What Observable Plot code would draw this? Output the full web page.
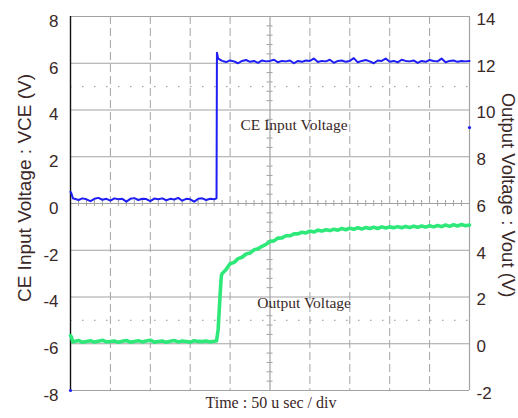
<!DOCTYPE html>
<html>
<head>
<meta charset="utf-8">
<script src="https://cdn.jsdelivr.net/npm/d3@7"></script>
<script src="https://cdn.jsdelivr.net/npm/@observablehq/plot@0.6"></script>
<style>
  html, body { margin: 0; padding: 0; background: #fff; }
  #chart { width: 518px; height: 418px; }
</style>
</head>
<body>
<div id="chart"></div>
<script>
// ---- Data (time in µs, 50 µs per division) ----
const sampleTimeLow = [0,1,3,5,10,15,20,25,30,35,40,45,50,55,60,65,70,75,80,85,90,95,100,105,110,115,120,125,130,135,140,145,150,155,160,165,170,175,180,183];
const sampleTimeHigh = [190,195,200,205,210,215,220,225,230,235,240,245,250,255,260,265,270,275,280,285,290,295,300,305,310,315,320,325,330,335,340,345,350,355,360,365,370,375,380,385,390,395,400,405,410,415,420,425,430,435,440,445,450,455,460,465,470,475,480,485,490,495,500];

// CE input voltage VCE (left axis, V)
const blueStepTime = [183.5, 185];
const blueLow = [0.5,0.45,0.22,0.2,0.15,0.22,0.18,0.1,0.2,0.24,0.16,0.2,0.12,0.22,0.18,0.2,0.08,0.2,0.23,0.15,0.2,0.19,0.1,0.21,0.18,0.22,0.14,0.2,0.17,0.24,0.12,0.2,0.18,0.08,0.2,0.22,0.15,0.2,0.18,0.22];
const blueStep = [6.45, 6.2];
const blueHigh = [6.1,6.05,6.12,6.08,6.0,6.1,6.14,6.06,6.1,6.02,
  6.12,6.08,6.1,6.15,6.04,6.1,6.08,6.12,6.0,6.1,
  6.06,6.12,6.1,6.2,6.05,6.1,6.08,6.15,6.02,6.1,
  6.12,6.06,6.1,6.22,6.04,6.1,6.14,6.08,6.0,6.12,
  6.1,6.2,6.06,6.1,6.04,6.15,6.1,6.08,6.12,6.02,
  6.1,6.06,6.14,6.1,6.08,6.2,6.04,6.1,6.12,6.06,
  6.1,6.08,6.1];

// Output voltage Vout (right axis, V)
const greenRiseTime = [185, 186.5, 188, 189];
const greenLow = [0.35,0.3,0.08,0.1,0.14,0.06,0.1,0.13,0.07,0.11,
  0.15,0.08,0.1,0.12,0.06,0.11,0.14,0.07,0.1,0.13,
  0.08,0.12,0.15,0.07,0.1,0.12,0.06,0.11,0.14,0.08,
  0.12,0.1,0.07,0.13,0.1,0.09,0.12,0.08,0.11,0.12];
const greenRise = [0.6, 1.5, 2.4, 2.9];
const greenHigh = [3.0,3.18,3.42,3.48,3.64,3.7,3.84,3.88,4.02,4.06,
  4.17,4.25,4.38,4.4,4.52,4.53,4.62,4.62,4.7,4.7,
  4.77,4.74,4.82,4.78,4.86,4.82,4.88,4.84,4.9,4.86,
  4.93,4.88,4.94,4.9,4.96,4.91,4.97,4.93,4.98,4.93,
  5.0,4.95,5.0,4.96,5.01,4.96,5.02,4.97,5.03,4.98,
  5.04,4.99,5.05,5.0,5.06,5.01,5.08,5.02,5.09,5.04,
  5.1,5.05,5.08];

// scope channel markers (left axis units)
const markerTime = [500, 0];
const markerVolt = [3.25, -8];

// axis ticks / grid
const leftTicks = [-8,-6,-4,-2,0,2,4,6,8];
const rightOffset = 6; // right axis = left axis + 6
const gridSolid = [-6,-4,-2,2,4,6];
const gridDotted = [-5,5];
const divisions = [50,100,150,200,300,350,400,450];
const centerTime = 250;

// labels
const leftTitle = "CE Input Voltage : VCE (V)";
const rightTitle = "Output Voltage : Vout (V)";
const xTitle = "Time : 50 u sec / div";
const annotations = [
  {t: 213, v: 3.34, text: "CE Input Voltage"},
  {t: 234, v: -4.24, text: "Output Voltage"}
];

// ---- Build tables ----
const blue = d3.zip([...sampleTimeLow, ...blueStepTime, ...sampleTimeHigh],
                    [...blueLow, ...blueStep, ...blueHigh]).map(([t, v]) => ({t, v}));
const green = d3.zip([...sampleTimeLow, ...greenRiseTime, ...sampleTimeHigh],
                     [...greenLow, ...greenRise, ...greenHigh]).map(([t, v]) => ({t, v}));
const markers = d3.zip(markerTime, markerVolt).map(([t, v]) => ({t, v}));
const minorX = d3.range(10, 500, 10).filter(d => d % 50 !== 0);
const minorY = d3.range(-7.6, 8, 0.4).map(d => +d.toFixed(1)).filter(d => Math.abs(d % 2) > 0.01);

const textColor = "#3a2828";
const gridColor = "#a3a3a3";

const chart = Plot.plot({
  width: 518,
  height: 418,
  marginLeft: 70,
  marginRight: 49,
  marginTop: 16,
  marginBottom: 28,
  x: {domain: [0, 500]},
  y: {domain: [-8, 8]},
  style: {background: "#fff", fontFamily: "Liberation Sans, Arial, sans-serif", color: textColor},
  marks: [
    Plot.ruleY(gridDotted, {stroke: "#a8a8a8", strokeDasharray: "1.5,10.5", strokeWidth: 1.2}),
    Plot.ruleX(divisions, {stroke: gridColor, strokeDasharray: "8,4", strokeWidth: 1}),
    Plot.ruleY(gridSolid, {stroke: gridColor, strokeWidth: 1.2}),
    Plot.ruleY([0], {stroke: gridColor, strokeWidth: 1.2}),
    Plot.ruleX([centerTime], {stroke: gridColor, strokeWidth: 1.2}),
    Plot.ruleX(minorX, {y1: -0.13, y2: 0.13, stroke: gridColor, strokeWidth: 1}),
    Plot.ruleY(minorY, {x1: centerTime - 3.8, x2: centerTime + 3.8, stroke: gridColor, strokeWidth: 1}),
    Plot.ruleY([-8, 8], {stroke: gridColor, strokeWidth: 1.2}),
    Plot.ruleX([500], {stroke: gridColor, strokeWidth: 1.2}),
    Plot.ruleX([0], {stroke: "#111", strokeWidth: 1.4}),
    Plot.line(green, {x: "t", y: d => d.v - rightOffset, stroke: "#2fe87a", strokeWidth: 3.6, curve: "linear"}),
    Plot.line(blue, {x: "t", y: "v", stroke: "#1e1ef5", strokeWidth: 2, curve: "linear"}),
    Plot.dot(markers, {x: "t", y: "v", r: 1.6, fill: "#1e1ef5", stroke: null}),
    Plot.axisY(leftTicks, {anchor: "left", tickSize: 0, tickPadding: 12, fontSize: 17, dy: 5,
      tickFormat: d => String(d), label: null, fill: textColor}),
    Plot.axisY(leftTicks, {anchor: "right", tickSize: 0, tickPadding: 7, fontSize: 17, dy: 3,
      tickFormat: d => String(d + rightOffset), label: null, fill: textColor}),
    Plot.axisX({ticks: [], label: null}),
    Plot.text([leftTitle], {frameAnchor: "left", dx: -45.5, dy: -15.5, rotate: -90,
      fontSize: 19, fill: textColor, textAnchor: "middle"}),
    Plot.text([rightTitle], {frameAnchor: "right", dx: 38.5, dy: -8.5, rotate: 90,
      fontSize: 18.5, fill: textColor, textAnchor: "middle"}),
    Plot.text([xTitle], {frameAnchor: "bottom", dx: 1, dy: 17, fontSize: 16,
      fontFamily: "Liberation Serif, Times New Roman, serif", fill: textColor}),
    Plot.text(annotations, {x: "t", y: "v", text: "text", textAnchor: "start", fontSize: 15.5,
      fontFamily: "Liberation Serif, Times New Roman, serif", fill: textColor})
  ]
});
document.getElementById("chart").appendChild(chart);
</script>
</body>
</html>
